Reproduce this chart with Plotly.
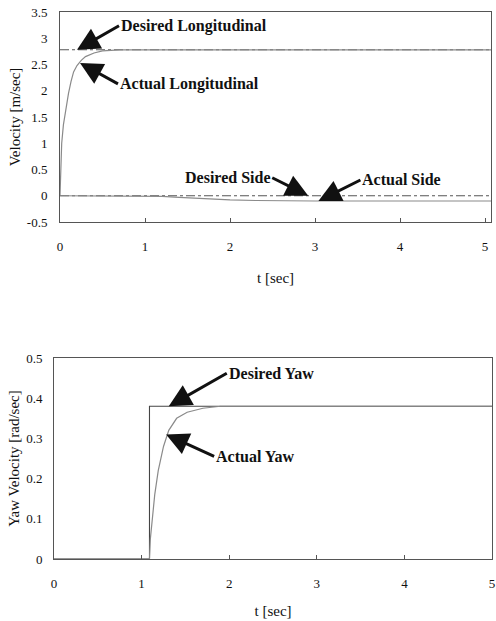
import plotly.graph_objects as go

# ---- data ----
t_long_des = [0.0, 5.07]
desired_long = [2.78, 2.78]
t_long_act = [0.0, 0.01, 0.02, 0.04, 0.06, 0.08, 0.10, 0.13, 0.16, 0.20, 0.25, 0.30, 0.40, 0.50, 0.70, 1.00, 5.07]
actual_long = [0.0, 0.60, 1.00, 1.35, 1.57, 1.80, 1.95, 2.18, 2.36, 2.48, 2.58, 2.65, 2.72, 2.76, 2.78, 2.78, 2.78]

t_side_des = [0.0, 5.07]
desired_side = [0.0, 0.0]
t_side_act = [0.0, 1.0, 1.2, 1.4, 1.6, 1.8, 2.0, 2.3, 2.7, 3.0, 5.07]
actual_side = [0.0, 0.0, -0.01, -0.03, -0.05, -0.065, -0.08, -0.09, -0.10, -0.10, -0.10]

t_yaw_des = [0.0, 1.09, 1.09, 5.0]
desired_yaw = [0.0, 0.0, 0.38, 0.38]
t_yaw_act = [0.0, 1.09, 1.10, 1.12, 1.15, 1.19, 1.25, 1.31, 1.40, 1.52, 1.70, 1.90, 5.0]
actual_yaw = [0.0, 0.0, 0.05, 0.10, 0.16, 0.22, 0.28, 0.32, 0.35, 0.365, 0.375, 0.38, 0.38]

vel_ticks = [-0.5, 0, 0.5, 1, 1.5, 2, 2.5, 3, 3.5]
vel_ticktext = ["-0.5", "0", "0.5", "1", "1.5", "2", "2.5", "3", "3.5"]
yaw_ticks = [0, 0.1, 0.2, 0.3, 0.4, 0.5]
yaw_ticktext = ["0", "0.1", "0.2", "0.3", "0.4", "0.5"]
t_ticks = [0, 1, 2, 3, 4, 5]

FONT = "Liberation Serif"
DES = dict(color="#555555", width=1.1, dash="dashdot")
ACT = dict(color="#8a8a8a", width=1.2)

fig = go.Figure()
fig.add_trace(go.Scatter(x=t_long_des, y=desired_long, mode="lines", line=DES, xaxis="x", yaxis="y"))
fig.add_trace(go.Scatter(x=t_long_act, y=actual_long, mode="lines", line=ACT, xaxis="x", yaxis="y"))
fig.add_trace(go.Scatter(x=t_side_des, y=desired_side, mode="lines", line=DES, xaxis="x", yaxis="y"))
fig.add_trace(go.Scatter(x=t_side_act, y=actual_side, mode="lines", line=ACT, xaxis="x", yaxis="y"))
fig.add_trace(go.Scatter(x=t_yaw_des, y=desired_yaw, mode="lines", line=dict(color="#444444", width=1.1), xaxis="x2", yaxis="y2"))
fig.add_trace(go.Scatter(x=t_yaw_act, y=actual_yaw, mode="lines", line=ACT, xaxis="x2", yaxis="y2"))

W, H = 496, 621
axis_common = dict(showgrid=False, zeroline=False, showline=True, linecolor="#555555",
                   linewidth=1, mirror=True, automargin=False, ticklabeloverflow="allow",
                   tickfont=dict(family=FONT, size=13, color="#111"),
                   title_font=dict(family=FONT, size=15, color="#111"))

fig.update_layout(
    width=W, height=H, margin=dict(l=0, r=0, t=0, b=0),
    paper_bgcolor="white", plot_bgcolor="white", showlegend=False,
    xaxis=dict(domain=[60 / W, 491 / W], range=[0, 5.07], tickvals=t_ticks,
               ticks="inside", ticklen=4, tickcolor="#555", ticklabelstandoff=12,
               title=dict(text="t [sec]", standoff=19), anchor="y", **axis_common),
    yaxis=dict(domain=[1 - 222 / H, 1 - 12 / H], range=[-0.5, 3.5], tickvals=vel_ticks,
               ticktext=vel_ticktext, ticks="", ticklabelstandoff=9,
               title=dict(text="Velocity [m/sec]", standoff=2), anchor="x", **axis_common),
    xaxis2=dict(domain=[54 / W, 492 / W], range=[0, 5.0], tickvals=t_ticks,
                ticks="inside", ticklen=4, tickcolor="#555", ticklabelstandoff=12,
                title=dict(text="t [sec]", standoff=15), anchor="y2", **axis_common),
    yaxis2=dict(domain=[1 - 559 / H, 1 - 358 / H], range=[0, 0.5], tickvals=yaw_ticks,
                ticktext=yaw_ticktext, ticks="", ticklabelstandoff=8,
                title=dict(text="Yaw Velocity [rad/sec]", standoff=2), anchor="x2", **axis_common),
)

ann_font = dict(family=FONT, size=16, color="#111")
arrow = dict(showarrow=True, arrowhead=2, arrowsize=1.5, arrowwidth=3, arrowcolor="#111",
             font=ann_font, axref="pixel", ayref="pixel")
anns = [
    dict(text="<b>Desired Longitudinal</b>", x=0.2, y=2.78, xref="x", yref="y", ax=42, ay=-24, xanchor="left", **arrow),
    dict(text="<b>Actual Longitudinal</b>", x=0.235, y=2.53, xref="x", yref="y", ax=38, ay=21, xanchor="left", **arrow),
    dict(text="<b>Desired Side</b>", x=2.92, y=0.0, xref="x", yref="y", ax=-36, ay=-18, xanchor="right", **arrow),
    dict(text="<b>Actual Side</b>", x=3.04, y=-0.10, xref="x", yref="y", ax=42, ay=-21, xanchor="left", **arrow),
    dict(text="<b>Desired Yaw</b>", x=1.31, y=0.38, xref="x2", yref="y2", ax=58, ay=-33, xanchor="left", **arrow),
    dict(text="<b>Actual Yaw</b>", x=1.28, y=0.31, xref="x2", yref="y2", ax=48, ay=22, xanchor="left", **arrow),
]
fig.update_layout(annotations=anns)

fig.write_html("out.html", config={"displayModeBar": False},
               post_script="document.body.style.margin='0';document.body.style.overflow='hidden';")
